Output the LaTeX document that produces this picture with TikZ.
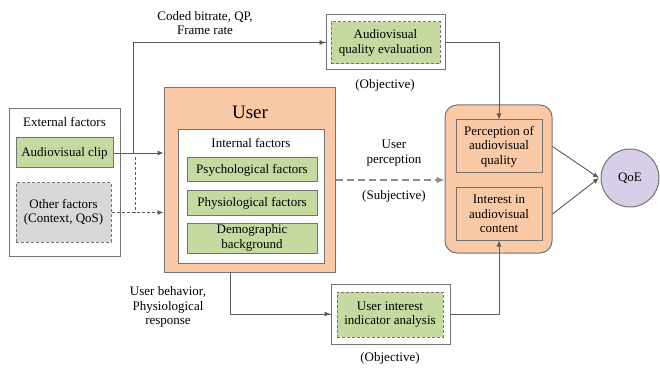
\documentclass[tikz,border=0pt]{standalone}
\usepackage{fontspec}
\setmainfont{Liberation Serif}
\newfontfamily\tms{Liberation Serif}
\usetikzlibrary{arrows.meta}
\definecolor{gfill}{RGB}{198,217,160}
\definecolor{ofill}{RGB}{250,201,166}
\definecolor{grayfill}{RGB}{216,216,216}
\definecolor{lav}{RGB}{216,206,232}
\definecolor{edge}{RGB}{115,115,115}
\definecolor{lineg}{RGB}{90,90,90}
\tikzset{
  txt/.style={font=\tms\fontsize{13}{14.5}\selectfont, align=center, text=black},
  box/.style={txt, draw=edge, line width=1pt, inner sep=0pt},
  greenbox/.style={box, fill=gfill},
  greendash/.style={box, fill=gfill, dashed, dash pattern=on 3pt off 2pt},
  graydash/.style={box, fill=grayfill, dashed, dash pattern=on 3pt off 2pt},
  orangebox/.style={box, fill=ofill},
  whitebox/.style={box, fill=white},
  conn/.style={draw=lineg, line width=0.9pt},
  arr/.style={conn, -{Latex[length=6pt,width=5pt]}},
  darr/.style={conn, dashed, dash pattern=on 3pt off 2pt, -{Latex[length=6pt,width=5pt]}},
  gdarr/.style={draw=black!45, line width=1.6pt, dashed, dash pattern=on 7pt off 4pt, -{Latex[length=8pt,width=7pt]}},
  lbl/.style={txt, inner sep=0pt}
}
\begin{document}
\begin{tikzpicture}[x=1pt,y=-1pt]
\useasboundingbox (0,0) rectangle (660,371);
% external factors
\node[whitebox, minimum width=111pt, minimum height=147pt] (ext) at (64.5,182.5) {};
\node[lbl] (extt) at (64.5,122) {External factors};
\node[greenbox, minimum width=97pt, minimum height=30pt] (clip) at (64.5,153) {Audiovisual clip};
\node[graydash, minimum width=95pt, minimum height=59pt] (other) at (63.5,212.5) {Other factors\\(Context, QoS)};
% user
\node[orangebox, minimum width=171pt, minimum height=184pt] (user) at (249.5,180) {};
\node[lbl, font=\tms\fontsize{19}{21}\selectfont] (usert) at (250,112) {User};
\node[whitebox, minimum width=146pt, minimum height=133pt] (int) at (251,196.5) {};
\node[lbl] (intt) at (251,143) {Internal factors};
\node[greenbox, minimum width=130pt, minimum height=24pt] (psy) at (252,170) {Psychological factors};
\node[greenbox, minimum width=130pt, minimum height=24pt] (phy) at (252,203) {Physiological factors};
\node[greenbox, minimum width=130pt, minimum height=30pt] (demo) at (252,238) {Demographic\\background};
% audiovisual quality evaluation
\node[whitebox, minimum width=119pt, minimum height=55pt] (aqe) at (385.5,42.5) {};
\node[greendash, minimum width=109pt, minimum height=42pt] (aqei) at (385.5,43) {Audiovisual\\quality evaluation};
\node[lbl] (obj1) at (385,85) {(Objective)};
% user interest indicator analysis
\node[whitebox, minimum width=119pt, minimum height=60pt] (uia) at (390.5,314) {};
\node[greendash, minimum width=106pt, minimum height=45pt] (uiai) at (390,314.5) {User interest\\indicator analysis};
\node[lbl] (obj2) at (390,358) {(Objective)};
% right box
\node[orangebox, rounded corners=12pt, minimum width=107pt, minimum height=148pt] (rbox) at (498.5,179) {};
\node[box, minimum width=86pt, minimum height=53pt] (perc) at (499,146.5) {Perception of\\audiovisual\\quality};
\node[box, minimum width=86pt, minimum height=52pt] (intr) at (499,214) {Interest in\\audiovisual\\content};
% QoE
\node[box, circle, fill=lav, minimum size=58pt] (qoe) at (630,178) {QoE};
% labels
\node[lbl] (coded) at (205,23) {Coded bitrate, QP,\\Frame rate};
\node[lbl] (uperc) at (394,153) {User\\perception};
\node[lbl] (subj) at (394,196) {(Subjective)};
\node[lbl] (ubeh) at (168,307) {User behavior,\\Physiological\\response};
% connectors
\coordinate (j1) at (133,153);
\coordinate (j2) at (135,157);
\coordinate (j3) at (230,272);
\coordinate (q1) at (599,178);
\draw[arr] (clip.east) -- (clip.east -| user.west);
\draw[conn] (j1) |- (aqe.west);
\draw[arr] (j1 |- aqe.west) -- (aqe.west);
\draw[darr] (other.east) -- (other.east -| user.west);
\draw[conn, dashed, dash pattern=on 3pt off 2pt] (j2) -- (j2 |- other.east);
\draw[arr] (aqe.east) -| (perc.north);
\draw[gdarr] (user.east) -- (user.east -| rbox.west);
\draw[conn] (j3) |- (uia.west);
\draw[arr] (j3 |- uia.west) -- (uia.west);
\draw[arr] (uia.east) -| (intr.south);
\draw[arr] (rbox.east |- perc.east) -- (q1);
\draw[arr] (rbox.east |- intr.east) -- (q1);
\end{tikzpicture}
\end{document}
